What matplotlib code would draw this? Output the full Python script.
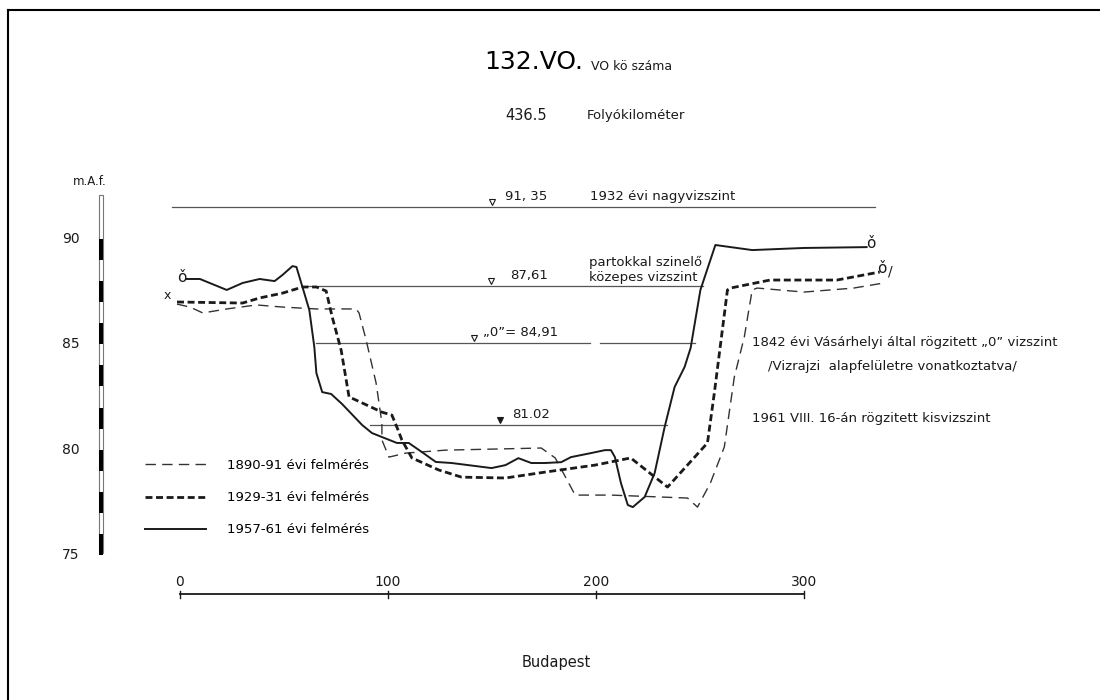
import matplotlib
matplotlib.use("Agg")
import matplotlib.pyplot as plt
from matplotlib.patches import Rectangle

# cross sections of the river bed, distance (m) vs elevation (m.A.f.)
d_1890 = [-1.4, 4.8, 11.0, 22.5, 36.8, 49.3, 65.6, 84.7, 86.1, 89.5, 94.3, 97.1, 97.1,
          100.5, 108.6, 127.8, 173.7, 180.4, 190.0, 207.2, 244.0, 248.8, 255.0, 261.7,
          266.5, 271.3, 275.1, 277.5, 300.0, 323.9, 338.3]
h_1890 = [86.75, 86.61, 86.33, 86.52, 86.71, 86.61, 86.52, 86.52, 86.33, 85.05, 83.01,
          81.11, 80.31, 79.50, 79.69, 79.83, 79.93, 79.46, 77.70, 77.70, 77.56, 77.13,
          78.27, 79.98, 83.29, 85.19, 87.42, 87.51, 87.32, 87.51, 87.75]

d_1929 = [-1.4, 30.1, 38.3, 49.3, 58.9, 65.6, 70.3, 73.2, 77.5, 81.3, 84.7, 97.1, 101.9,
          104.3, 106.7, 111.5, 124.4, 135.4, 156.5, 175.6, 199.5, 216.7, 234.4, 253.6,
          256.9, 263.2, 264.6, 283.7, 315.8, 336.4]
h_1929 = [86.85, 86.80, 87.04, 87.27, 87.56, 87.56, 87.37, 86.14, 84.57, 82.35, 82.20,
          81.63, 81.49, 80.92, 80.31, 79.46, 78.89, 78.55, 78.51, 78.79, 79.12, 79.46,
          78.08, 80.17, 82.54, 87.42, 87.51, 87.89, 87.89, 88.27]

d_1957 = [3.3, 9.6, 22.5, 30.1, 38.3, 45.5, 49.3, 54.1, 56.0, 58.9, 62.2, 64.6, 65.6,
          68.4, 72.7, 78.0, 87.6, 92.3, 104.3, 110.0, 116.3, 123.0, 130.6, 149.8, 156.5,
          162.7, 168.9, 175.6, 183.3, 188.0, 197.6, 204.3, 207.2, 209.1, 212.0, 215.3,
          217.7, 223.4, 228.2, 233.0, 237.8, 242.6, 245.5, 250.2, 257.4, 275.1, 300.0,
          330.1]
h_1957 = [87.94, 87.94, 87.42, 87.75, 87.94, 87.84, 88.13, 88.55, 88.51, 87.56, 86.47,
          84.72, 83.48, 82.58, 82.49, 82.01, 81.02, 80.64, 80.17, 80.17, 79.74, 79.27,
          79.22, 78.98, 79.12, 79.45, 79.22, 79.22, 79.26, 79.50, 79.69, 79.83, 79.83,
          79.50, 78.27, 77.23, 77.13, 77.61, 78.74, 80.92, 82.82, 83.77, 84.67, 87.42,
          89.55, 89.31, 89.41, 89.45]

# reference water levels
levels = [91.35, 87.61, 84.91, 81.02]
level_text = ["91, 35", "87,61", "\u201e0\u201d= 84,91", "81.02"]
level_spans = [[(-3.8, 334.0)], [(61.0, 251.4)], [(65.4, 197.1), (201.9, 247.6)],
               [(91.3, 234.1)]]
level_mark_x = [150.0, 149.5, 141.3, 153.8]
level_label_x = [156.3, 158.7, 145.7, 159.6]

y_ticks = [90, 85, 80, 75]
x_ticks = [0, 100, 200, 300]

plt.rcParams["font.family"] = ["DejaVu Sans"]
plt.rcParams["lines.scale_dashes"] = False

fig = plt.figure(figsize=(11, 7), dpi=100)
ax = fig.add_axes([0, 0, 1, 1])
ax.set_xlim(-86.5, 442.3)
ax.set_ylim(67.99, 101.16)
ax.axis("off")

ink = "#1a1a1a"

# horizontal levels
for lv, spans in zip(levels, level_spans):
    for a, b in spans:
        ax.plot([a, b], [lv, lv], color="#555555", lw=0.9)
for i, lv in enumerate(levels):
    filled = i == 3
    ax.plot(level_mark_x[i], lv + 0.22, marker="v", ms=5,
            mfc=ink if filled else "white", mec=ink, mew=0.8)
    ax.text(level_label_x[i], lv + 0.2, level_text[i], fontsize=9.5, color=ink,
            va="bottom", ha="left")

# survey profiles
ax.plot(d_1890, h_1890, color="#333333", lw=1.0, dashes=(7.5, 4.5),
        label="1890-91 évi felmérés")
ax.plot(d_1929, h_1929, color=ink, lw=2.0, dashes=(5, 2.6),
        label="1929-31 évi felmérés")
ax.plot(d_1957, h_1957, color=ink, lw=1.4, label="1957-61 évi felmérés")

# end point signs
ax.text(1, 88.0, "\u01d2", fontsize=11, ha="center", va="center", color=ink)
ax.text(-6, 87.15, "x", fontsize=9, ha="center", va="center", color=ink)
ax.text(332, 89.6, "\u01d2", fontsize=11, ha="center", va="center", color=ink)
ax.text(337.5, 88.45, "\u01d2", fontsize=11, ha="center", va="center", color=ink)
ax.text(341.5, 88.3, "/", fontsize=10, ha="center", va="center", color=ink)

# vertical scale bar
bar_x, bar_w = -39.0, 1.9
ax.add_patch(Rectangle((bar_x, 74.95), bar_w, 91.92 - 74.95, fill=False,
                       ec="#777777", lw=0.8))
for k in range(76, 92, 2):
    ax.add_patch(Rectangle((bar_x, k - 1.15), bar_w, 1.0, color="black", lw=0))
for t in y_ticks:
    ax.text(-52.4, t - 0.15, str(t), fontsize=10, ha="center", va="center", color=ink)
ax.text(-43.3, 92.55, "m.A.f.", fontsize=8.5, ha="center", va="center", color=ink)

# distance scale
ax.plot([x_ticks[0], x_ticks[-1]], [72.99, 72.99], color=ink, lw=1.3)
for t in x_ticks:
    ax.plot([t, t], [72.82, 73.16], color=ink, lw=1.0)
    ax.text(t, 73.25, str(t), fontsize=10, ha="center", va="bottom", color=ink)

# annotations
ax.text(146.2, 98.22, "132.VO.", fontsize=18, ha="left", va="center", color="black")
ax.text(197.8, 98.03, "VO kö száma", fontsize=9, ha="left", va="center", color=ink)
ax.text(156.3, 95.71, "436.5", fontsize=10.5, ha="left", va="center", color=ink)
ax.text(195.7, 95.71, "Folyókilométer", fontsize=9.5, ha="left", va="center", color=ink)
ax.text(197.1, 91.87, "1932 évi nagyvizszint", fontsize=9.5, ha="left",
        va="center", color=ink)
ax.text(196.6, 88.36, "partokkal szinelő\nközepes vizszint", fontsize=9.5,
        ha="left", va="center", color=ink, linespacing=1.2)
ax.text(275.0, 84.95, "1842 évi Vásárhelyi által rögzitett \u201e0\u201d vizszint",
        fontsize=9.5, ha="left", va="center", color=ink)
ax.text(282.7, 83.81, "/Vizrajzi  alapfelületre vonatkoztatva/", fontsize=9.5,
        ha="left", va="center", color=ink)
ax.text(275.0, 81.35, "1961 VIII. 16-án rögzitett kisvizszint", fontsize=9.5,
        ha="left", va="center", color=ink)
ax.text(180.8, 69.79, "Budapest", fontsize=10.5, ha="center", va="center", color=ink)

ax.legend(loc="upper left", bbox_to_anchor=(145 / 1100, 1 - 459 / 700),
          frameon=False, borderpad=0, borderaxespad=0, fontsize=9.5,
          handlelength=4.6, handletextpad=1.6, labelspacing=1.45)

# drawing frame
fig.add_artist(plt.Line2D([8 / 1100, 8 / 1100], [0.0, 1 - 10 / 700],
                          transform=fig.transFigure, color="black", lw=1.5))
fig.add_artist(plt.Line2D([8 / 1100, 1.0], [1 - 10 / 700, 1 - 10 / 700],
                          transform=fig.transFigure, color="black", lw=1.5))

fig.savefig("out.png", dpi=100)
